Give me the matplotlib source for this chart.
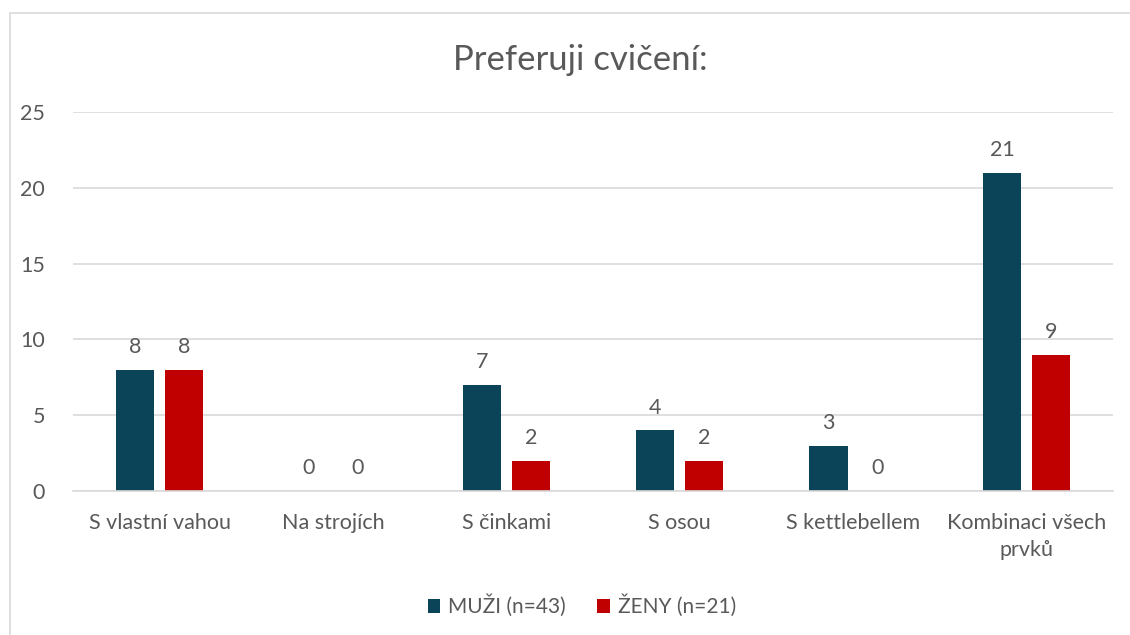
import matplotlib
matplotlib.use("Agg")
import matplotlib.pyplot as plt
import numpy as np
from matplotlib.patches import Rectangle

categories = ["S vlastní vahou", "Na strojích", "S činkami", "S osou", "S kettlebellem", "Kombinaci všech\nprvků"]
muzi = [8, 0, 7, 4, 3, 21]
zeny = [8, 0, 2, 2, 0, 9]
series_names = ["MUŽI (n=43)", "ŽENY (n=21)"]
title = "Preferuji cvičení:"

plt.rcParams['font.family'] = ['Lato', 'DejaVu Sans']
txt = '#595959'

fig = plt.figure(figsize=(11.3, 6.35), dpi=100)
fig.patches.append(Rectangle((10/1130, 1 - 640/635), 1.2, (640-13)/635, transform=fig.transFigure,
                             fill=False, edgecolor='#D9D9D9', linewidth=1.2))
ax = fig.add_axes([73/1130, 1 - 491/635, 1040/1130, 379/635])

x = np.arange(len(categories))
w = 0.22
off = 0.141
b1 = ax.bar(x - off, muzi, w, color='#0B4458', label=series_names[0])
b2 = ax.bar(x + off, zeny, w, color='#C00000', label=series_names[1])
for bars, vals in ((b1, muzi), (b2, zeny)):
    for r, v in zip(bars, vals):
        ax.annotate(str(v), (r.get_x() + r.get_width()/2, v), xytext=(0, 9), textcoords='offset points',
                    ha='center', va='bottom', fontsize=15.5, color=txt)

ax.set_xlim(-0.5, len(categories) - 0.5)
ax.set_ylim(0, 25)
ax.set_yticks([0, 5, 10, 15, 20, 25])
ax.yaxis.grid(True, color='#D9D9D9', linewidth=1.2)
ax.set_axisbelow(True)
for s in ['top', 'right', 'left']:
    ax.spines[s].set_visible(False)
ax.spines['bottom'].set_color('#D9D9D9')
ax.spines['bottom'].set_linewidth(1.2)
ax.tick_params(length=0, labelsize=15.5, colors=txt)
ax.tick_params(axis='y', pad=20)
ax.tick_params(axis='x', pad=16)
ax.set_xticks(x)
ax.set_xticklabels(categories, linespacing=1.4)

fig.text(580/1130, 1 - 60/635, title, ha='center', va='center', fontsize=25, color=txt)
fig.legend(handles=[b1, b2], loc='center', bbox_to_anchor=(582/1130, 1 - 606/635), ncol=2,
           frameon=False, fontsize=15, labelcolor=txt, handlelength=0.6, handleheight=0.6,
           columnspacing=1.5, handletextpad=0.4)
fig.savefig("out.png", dpi=100)
